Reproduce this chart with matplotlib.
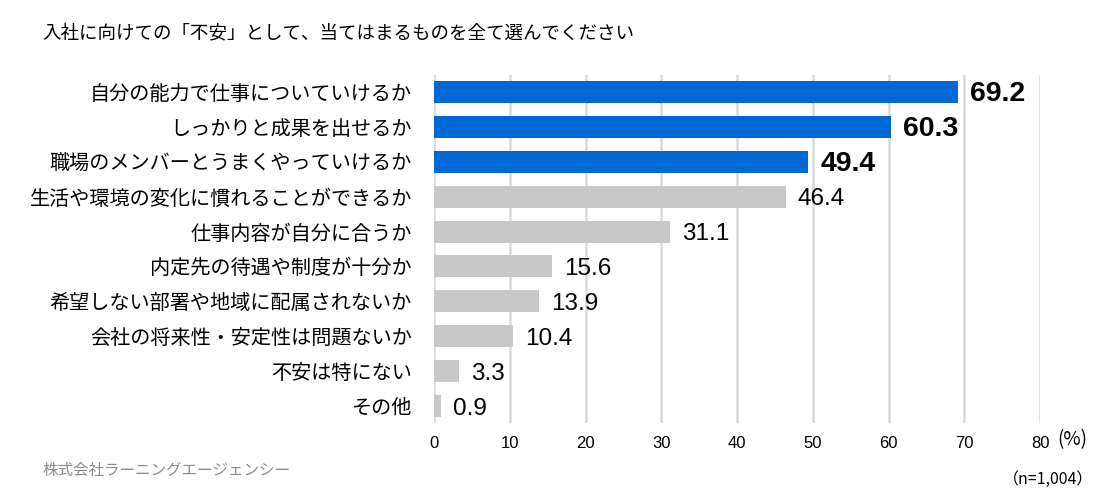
import matplotlib.pyplot as plt

plt.rcParams['font.family'] = ['Noto Sans CJK JP', 'DejaVu Sans']

# data, top to bottom as drawn
categories = [
    "自分の能力で仕事についていけるか",
    "しっかりと成果を出せるか",
    "職場のメンバーとうまくやっていけるか",
    "生活や環境の変化に慣れることができるか",
    "仕事内容が自分に合うか",
    "内定先の待遇や制度が十分か",
    "希望しない部署や地域に配属されないか",
    "会社の将来性・安定性は問題ないか",
    "不安は特にない",
    "その他",
]
values = [69.2, 60.3, 49.4, 46.4, 31.1, 15.6, 13.9, 10.4, 3.3, 0.9]
highlight = [True, True, True, False, False, False, False, False, False, False]
xticks = [0, 10, 20, 30, 40, 50, 60, 70, 80]

BLUE = "#0068D4"
GREY = "#C8C8C8"

fig = plt.figure(figsize=(11.03, 4.99), dpi=100)
ax = fig.add_axes([0.3935, 0.1515, 0.5495, 0.699])

ypos = list(range(len(categories)))
colors = [BLUE if h else GREY for h in highlight]
ax.barh(ypos, values, height=0.63, color=colors, zorder=3)

for y, v, h in zip(ypos, values, highlight):
    if h:
        ax.text(v + 1.6, y + 0.05, f"{v:.1f}", va="center", ha="left",
                fontsize=20.5, fontweight="bold", family="Liberation Sans", zorder=4)
    else:
        ax.text(v + 1.6, y + 0.08, f"{v:.1f}", va="center", ha="left",
                fontsize=17.5, family="Liberation Sans", zorder=4)

ax.set_xlim(0, 80)
ax.set_ylim(len(categories) - 0.5, -0.5)
ax.set_xticks(xticks)
ax.set_xticklabels([str(t) for t in xticks], fontsize=12, family="Liberation Sans")
ax.set_yticks(ypos)
ax.set_yticklabels(categories, fontsize=14.5)
ax.tick_params(axis="y", length=0, pad=16)
ax.tick_params(axis="x", length=0, pad=9)
ax.grid(axis="x", color="#D9D9D9", linewidth=1.8, zorder=0)
for s in ax.spines.values():
    s.set_visible(False)

fig.text(42 / 1103, 1 - 33 / 499, "入社に向けての「不安」として、当てはまるものを全て選んでください",
         fontsize=13.3, va="center", ha="left")
fig.text(1057 / 1103, 1 - 440 / 499, "(%)", fontsize=13.5, va="center", ha="left")
fig.text(1093 / 1103, 1 - 479 / 499, "（n=1,004）", fontsize=11.5, va="center", ha="right")
fig.text(42 / 1103, 1 - 470 / 499, "株式会社ラーニングエージェンシー", fontsize=11.2,
         color="#8C8C8C", va="center", ha="left")

fig.savefig("out.png", dpi=100)
